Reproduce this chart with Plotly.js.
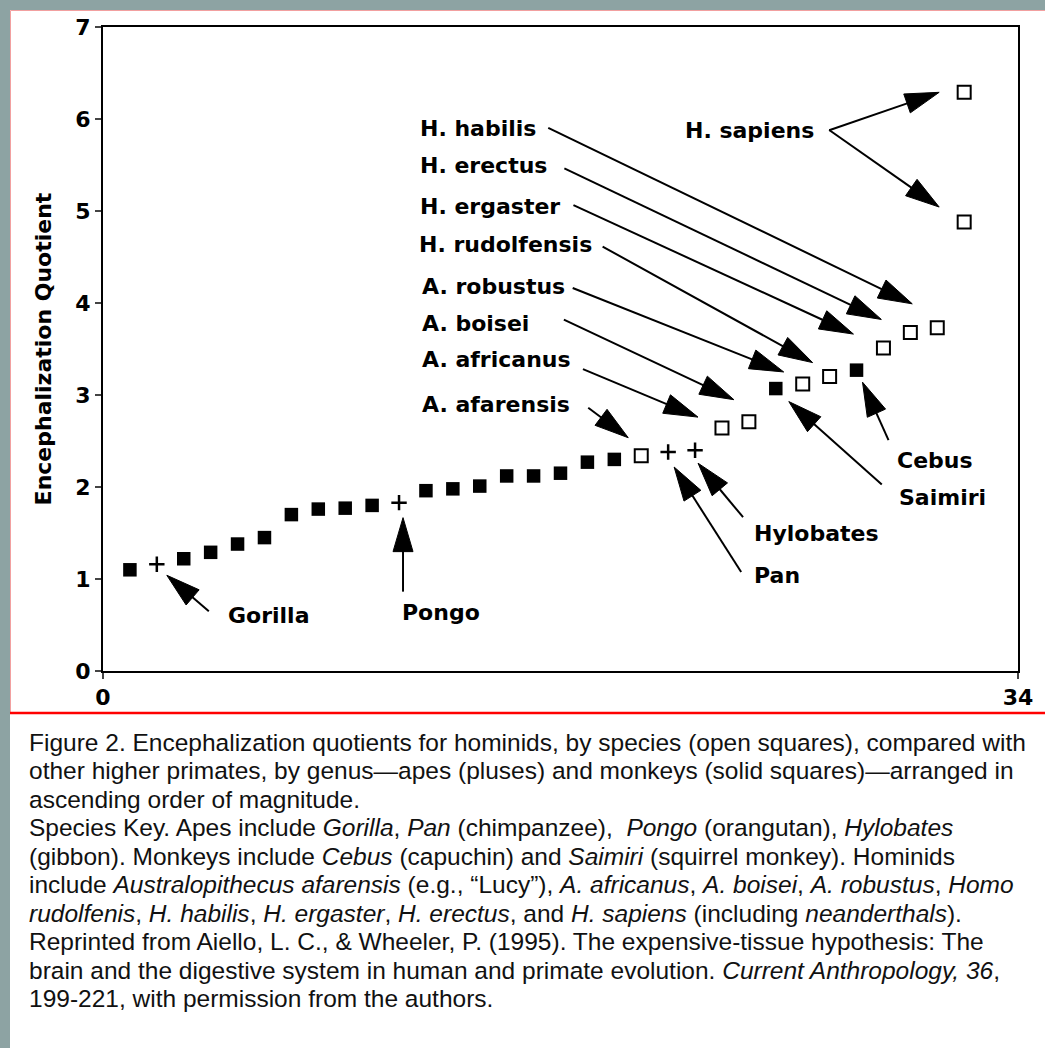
<!DOCTYPE html>
<html><head><meta charset="utf-8">
<script src="https://cdn.plot.ly/plotly-3.0.1.min.js"></script>
<style>
html,body{margin:0;padding:0;background:#fff;}
#chart{width:1045px;height:1048px;}
</style></head><body>
<div id="chart"></div>
<script>
// ---- data (rank order, encephalization quotient) ----
const monkeyRank = [1,3,4,5,6,7,8,9,10,12,13,14,15,16,17,18,19,25,28];
const monkeyEQ   = [1.10,1.22,1.29,1.38,1.45,1.70,1.76,1.77,1.80,1.96,1.98,2.01,2.12,2.12,2.15,2.27,2.30,3.07,3.27];
const apeNames   = ['Gorilla','Pongo','Pan','Hylobates'];
const apeRank    = [2,11,21,22];
const apeEQ      = [1.16,1.83,2.38,2.40];
const hominidNames = ['A. afarensis','A. africanus','A. boisei','A. robustus','H. rudolfensis','H. ergaster','H. erectus','H. habilis','H. sapiens','H. sapiens'];
const hominidRank  = [20,23,24,26,27,29,30,31,32,32];
const hominidEQ    = [2.34,2.64,2.71,3.12,3.20,3.51,3.68,3.73,6.29,4.88];
const xTicks = [0,34];
const yTicks = [0,1,2,3,4,5,6,7];

// ---- layout geometry (page pixels) ----
const W = 1045, H = 1048;
const PL = 103, PR = 1018, PT = 27, PB = 671;
const px2x = p => (p - PL) / (PR - PL);
const py2y = p => (PB - p) / (PB - PT);

const bold = {family: 'DejaVu Sans', size: 22, weight: 'bold', color: '#000'};

// label text placement (left edge x, middle y)
const labels = [
  ['Gorilla', 226, 615], ['Pongo', 400, 612], ['A. afarensis', 420, 404],
  ['Pan', 752, 575], ['Hylobates', 752, 533], ['A. africanus', 420, 360],
  ['A. boisei', 420, 323], ['Saimiri', 897, 497], ['A. robustus', 420, 286],
  ['H. rudolfensis', 417, 244], ['Cebus', 895, 460], ['H. ergaster', 418, 206],
  ['H. erectus', 418, 165], ['H. habilis', 418, 128], ['H. sapiens', 683, 130]
];

// arrows: target point, tip offset and tail offset in px (y down) from the point
const groups = {
  monkey: [monkeyRank, monkeyEQ],
  ape: [apeRank, apeEQ],
  hom: [hominidRank, hominidEQ]
};
const arrows = [
  ['ape', 0, [10, 11], [52, 47]],
  ['ape', 1, [4, 15], [4, 89]],
  ['hom', 0, [-13, -18], [-53, -48]],
  ['ape', 2, [6, 15], [73, 120]],
  ['ape', 3, [3, 13], [48, 67]],
  ['hom', 1, [-24, -11], [-139, -59]],
  ['hom', 2, [-15, -22], [-185, -102]],
  ['monkey', 17, [13, 13], [106, 96]],
  ['hom', 3, [-19, -12], [-230, -96]],
  ['hom', 4, [-17, -14], [-227, -130]],
  ['monkey', 18, [6, 12], [32, 70]],
  ['hom', 5, [-30, -14], [-310, -143]],
  ['hom', 6, [-29, -13], [-346, -164]],
  ['hom', 7, [-25, -24], [-389, -200]],
  ['hom', 8, [-25, 0], [-135, 38]],
  ['hom', 9, [-25, -15], [-135, -92]]
];

const headLen = 34, headHalf = 10;
const shapes = [];
arrows.forEach(a => {
  const g = groups[a[0]];
  const xa = g[0][a[1]], ya = g[1][a[1]];
  const tx = a[2][0], ty = a[2][1], sx = a[3][0], sy = a[3][1];
  const dx = tx - sx, dy = ty - sy, len = Math.hypot(dx, dy);
  const ux = dx / len, uy = dy / len;
  const bx = tx - ux * headLen, by = ty - uy * headLen;
  const nx = -uy * headHalf, ny = ux * headHalf;
  const f = v => v.toFixed(2);
  // pixel paths: y up is positive, so negate the y-down offsets
  shapes.push({
    type: 'path', xref: 'x', yref: 'y', xsizemode: 'pixel', ysizemode: 'pixel',
    xanchor: xa, yanchor: ya, layer: 'above',
    path: `M${f(sx)},${f(-sy)} L${f(bx + ux * 4)},${f(-(by + uy * 4))}`,
    line: {color: '#000', width: 2}
  });
  shapes.push({
    type: 'path', xref: 'x', yref: 'y', xsizemode: 'pixel', ysizemode: 'pixel',
    xanchor: xa, yanchor: ya, layer: 'above',
    path: `M${f(tx)},${f(-ty)} L${f(bx + nx)},${f(-(by + ny))} L${f(bx - nx)},${f(-(by - ny))} Z`,
    fillcolor: '#000', line: {color: '#000', width: 1}
  });
});

// page frame decoration
const frame = '#8da3a3';
shapes.push({type: 'rect', xref: 'paper', yref: 'paper', x0: px2x(0), x1: px2x(W), y0: py2y(0), y1: py2y(10), fillcolor: frame, line: {width: 0}, layer: 'above'});
shapes.push({type: 'rect', xref: 'paper', yref: 'paper', x0: px2x(0), x1: px2x(10), y0: py2y(0), y1: py2y(H), fillcolor: frame, line: {width: 0}, layer: 'above'});
shapes.push({type: 'line', xref: 'paper', yref: 'paper', x0: px2x(10.5), x1: px2x(W), y0: py2y(10.5), y1: py2y(10.5), line: {color: '#f2a0a0', width: 1}});
shapes.push({type: 'line', xref: 'paper', yref: 'paper', x0: px2x(10.5), x1: px2x(10.5), y0: py2y(10.5), y1: py2y(713), line: {color: '#f2a0a0', width: 1}});
shapes.push({type: 'line', xref: 'paper', yref: 'paper', x0: px2x(10), x1: px2x(W), y0: py2y(713), y1: py2y(713), line: {color: '#ff0000', width: 2.5}});

const annotations = labels.map(l => ({
  text: l[0], xref: 'paper', yref: 'paper', x: px2x(l[1]), y: py2y(l[2]),
  xanchor: 'left', yanchor: 'middle', showarrow: false, font: bold
}));

// caption
const captionLines = [
  'Figure 2. Encephalization quotients for hominids, by species (open squares), compared with',
  'other higher primates, by genus—apes (pluses) and monkeys (solid squares)—arranged in',
  'ascending order of magnitude.',
  'Species Key. Apes include <i>Gorilla</i>, <i>Pan</i> (chimpanzee),  <i>Pongo</i> (orangutan), <i>Hylobates</i>',
  '(gibbon). Monkeys include <i>Cebus</i> (capuchin) and <i>Saimiri</i> (squirrel monkey). Hominids',
  'include <i>Australopithecus afarensis</i> (e.g., “Lucy”), <i>A. africanus</i>, <i>A. boisei</i>, <i>A. robustus</i>, <i>Homo</i>',
  '<i>rudolfenis</i>, <i>H. habilis</i>, <i>H. ergaster</i>, <i>H. erectus</i>, and <i>H. sapiens</i> (including <i>neanderthals</i>).',
  'Reprinted from Aiello, L. C., &amp; Wheeler, P. (1995). The expensive-tissue hypothesis: The',
  'brain and the digestive system in human and primate evolution. <i>Current Anthropology, 36</i>,',
  '199-221, with permission from the authors.'
];
const captionY = [742, 770.5, 799, 827.5, 856, 884.5, 913, 941.5, 970, 998.5];
captionLines.forEach((t, i) => annotations.push({
  text: t, xref: 'paper', yref: 'paper', x: px2x(27), y: py2y(captionY[i]),
  xanchor: 'left', yanchor: 'middle', showarrow: false,
  font: {family: 'Liberation Sans, Arial, sans-serif', size: 24.5, color: '#111'}
}));

const traces = [
  {x: monkeyRank, y: monkeyEQ, type: 'scatter', mode: 'markers', name: 'Monkeys',
   marker: {symbol: 'square', size: 13.5, color: '#000', line: {width: 0}}},
  {x: apeRank, y: apeEQ, text: apeNames, type: 'scatter', mode: 'markers', name: 'Apes',
   marker: {symbol: 'cross-thin-open', size: 11, color: '#000', line: {width: 2.5, color: '#000'}}},
  {x: hominidRank, y: hominidEQ, text: hominidNames, type: 'scatter', mode: 'markers', name: 'Hominids',
   marker: {symbol: 'square-open', size: 13, color: '#000', line: {width: 2, color: '#000'}}}
];

const layout = {
  width: W, height: H,
  margin: {l: PL, r: W - PR, t: PT, b: H - PB},
  paper_bgcolor: '#fff', plot_bgcolor: '#fff',
  showlegend: false,
  xaxis: {range: [0, 34], tickvals: xTicks, ticktext: xTicks.map(String), ticks: 'outside', ticklen: 6, tickwidth: 2,
          showline: true, linecolor: '#000', linewidth: 2, mirror: true, showgrid: false, zeroline: false,
          tickfont: bold, fixedrange: true},
  yaxis: {range: [0, 7], tickvals: yTicks, ticks: 'outside', ticklen: 6, tickwidth: 2,
          showline: true, linecolor: '#000', linewidth: 2, mirror: true, showgrid: false, zeroline: false,
          tickfont: bold, title: {text: 'Encephalization Quotient', font: bold, standoff: 18}, fixedrange: true},
  shapes: shapes,
  annotations: annotations
};

Plotly.newPlot('chart', traces, layout, {staticPlot: true, displayModeBar: false});
</script>
</body></html>
